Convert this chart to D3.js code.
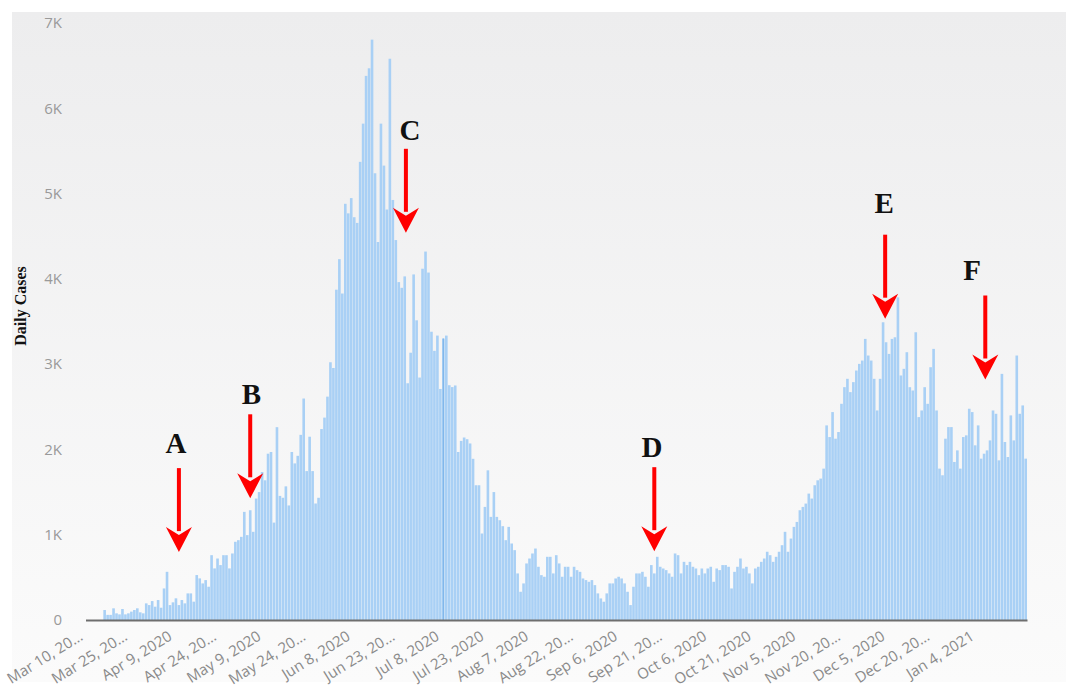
<!DOCTYPE html>
<html>
<head>
<meta charset="utf-8">
<script src="https://cdn.jsdelivr.net/npm/d3@7"></script>
<style>
  body { margin: 0; background: #fff; }
  svg { display: block; }
</style>
</head>
<body>
<div id="chart"></div>
<script>
// daily cases, one array per month (Mar 10, 2020 .. Jan 20, 2021)
var mar2020 = [0,0,0,0,0,0,117,60,60,137,78,66,129,66,78,98,117,137,90,78,195,175];
var apr2020 = [222,156,234,144,370,565,175,207,254,175,234,195,312,312,215,527,488,429,468,390,760,605,721,644,760,760,605,780,917,936];
var may2020 = [975,1268,995,1287,1034,1424,1500,1735,1638,1950,1970,1142,2261,1455,1433,1567,1343,1970,1836,1925,2171,2597,1746,2149,1746,1366,1433,2239,2373,2619,3022];
var jun2020 = [2955,3873,4231,3828,4880,4768,4947,4723,4656,5372,5820,6380,6469,6805,5238,4432,5820,5328,4813,6581,4925,4455,3962,3895,4029,2776,3134,4052,3514,2843];
var jul2020 = [4119,4320,4074,3380,3156,3335,2709,3300,3335,2753,2731,2750,1970,2100,2140,2120,2070,1890,1580,1580,1014,1326,1755,1209,1500,1209,1170,1100,936,1092,897];
var aug2020 = [819,546,331,429,663,721,780,838,624,526,507,741,741,546,760,663,507,624,624,507,624,585,565,487,468,448,468,409,312,253,214];
var sep2020 = [312,429,429,487,507,487,429,331,175,390,546,546,565,507,390,644,546,741,624,604,585,546,507,780,760,546,682,644,682,624];
var oct2020 = [604,526,604,546,604,624,448,604,585,644,644,624,370,565,624,721,604,624,546,429,604,624,682,721,800,760,682,741,800,877,1034];
var nov2020 = [800,955,1092,1150,1287,1326,1365,1482,1424,1580,1638,1658,1775,2282,2145,2438,2126,2204,2535,2730,2828,2672,2789,2925,3003,3042,3296,3101,3042,2828];
var dec2020 = [2457,2828,3491,3257,3120,3296,3315,3783,2867,2945,3140,2730,2691,3374,2379,2457,2730,2535,2964,3179,2457,1775,1697,2126,2262,2262,1853,1989,1775,2145,2165];
var jan2021 = [2477,2438,2048,2282,1892,1950,1989,2106,2457,2418,1872,2886,2087,1911,2399,2106,3101,2418,2516,1892];

var dailyCases = [].concat(mar2020, apr2020, may2020, jun2020, jul2020, aug2020,
                           sep2020, oct2020, nov2020, dec2020, jan2021);

var tickLabels = ["Mar 10, 20\u2026", "Mar 25, 20\u2026", "Apr 9, 2020", "Apr 24, 20\u2026", "May 9, 2020",
                  "May 24, 20\u2026", "Jun 8, 2020", "Jun 23, 20\u2026", "Jul 8, 2020", "Jul 23, 2020",
                  "Aug 7, 2020", "Aug 22, 20\u2026", "Sep 6, 2020", "Sep 21, 20\u2026", "Oct 6, 2020",
                  "Oct 21, 2020", "Nov 5, 2020", "Nov 20, 20\u2026", "Dec 5, 2020", "Dec 20, 20\u2026", "Jan 4, 2021"];
var yTicks = [0, 1000, 2000, 3000, 4000, 5000, 6000, 7000];
var yTickLabels = ["0", "1K", "2K", "3K", "4K", "5K", "6K", "7K"];

// annotations: day index (from Mar 10) and value where the arrow tip / letter sit
var annotLabels = ["A", "B", "C", "D", "E", "F"];
var annotTipDay = [31, 55, 107.4, 191, 268.7, 302.4];
var annotTipValue = [796, 1427, 4540, 807, 3533, 2820];
var annotLabelDay = [30, 55.4, 108.8, 190.2, 268.4, 298];
var annotLabelValue = [1958, 2532, 5627, 1911, 4771, 3986];

var startDate = new Date(2020, 2, 10);
var highlightIndex = d3.timeDay.count(startDate, new Date(2020, 6, 8)); // Jul 8

var width = 1074, height = 689;
var svg = d3.select("#chart").append("svg")
    .attr("width", width)
    .attr("height", height);

var defs = svg.append("defs");
var grad = defs.append("linearGradient")
    .attr("id", "panelGrad")
    .attr("x1", 0).attr("y1", 0).attr("x2", 0).attr("y2", 1);
grad.append("stop").attr("offset", "0%").attr("stop-color", "#ededee");
grad.append("stop").attr("offset", "100%").attr("stop-color", "#fbfbfb");

svg.append("rect")
    .attr("x", 12).attr("y", 12)
    .attr("width", 1054).attr("height", 670)
    .attr("fill", "url(#panelGrad)");

var x = d3.scaleBand()
    .domain(d3.range(dailyCases.length))
    .range([85.5, 1027])
    .paddingInner(0.12)
    .paddingOuter(0);
var half = x.bandwidth() / 2;
var xDay = d3.scaleLinear()
    .domain([0, dailyCases.length - 1])
    .range([x(0) + half, x(dailyCases.length - 1) + half]);
var y = d3.scaleLinear()
    .domain([0, 7000])
    .range([620, 23]);

// bars
svg.append("g")
  .selectAll("rect")
  .data(dailyCases)
  .enter().append("rect")
    .attr("x", function(d, i) { return x(i); })
    .attr("y", function(d) { return y(d); })
    .attr("width", x.bandwidth())
    .attr("height", function(d) { return y(0) - y(d); })
    .attr("fill", "#a9d0f5");

// hover marker on Jul 8
svg.append("line")
    .attr("x1", xDay(highlightIndex)).attr("x2", xDay(highlightIndex))
    .attr("y1", y(0)).attr("y2", y(dailyCases[highlightIndex]))
    .attr("stroke", "#7fb5ea")
    .attr("stroke-width", 1.2);

// x axis
var xAxis = svg.append("g")
    .attr("transform", "translate(0," + y(0) + ")")
    .call(d3.axisBottom(x)
        .tickValues(d3.range(0, tickLabels.length * 15, 15))
        .tickFormat(function(d, i) { return tickLabels[i]; })
        .tickSize(0)
        .tickSizeOuter(0));
xAxis.select(".domain")
    .attr("stroke", "#6e6e6e")
    .attr("stroke-width", 2.2);
xAxis.selectAll("text")
    .attr("y", null)
    .attr("dy", null)
    .attr("text-anchor", "end")
    .attr("transform", "translate(-3,19) rotate(-32)")
    .style("font-family", "'Open Sans', sans-serif")
    .style("font-size", "15px")
    .style("fill", "#8a8a8a");

// y axis
var yAxis = svg.append("g")
    .attr("transform", "translate(62,0)")
    .call(d3.axisLeft(y)
        .tickValues(yTicks)
        .tickFormat(function(d, i) { return yTickLabels[i]; })
        .tickSize(0)
        .tickPadding(0));
yAxis.select(".domain").remove();
yAxis.selectAll("text")
    .style("font-family", "'Open Sans', sans-serif")
    .style("font-size", "15px")
    .style("fill", "#9a9a9a");

svg.append("text")
    .text("Daily Cases")
    .attr("transform", "translate(26," + 306 + ") rotate(-90)")
    .style("text-anchor", "middle")
    .style("font-family", "'Liberation Serif', serif")
    .style("font-weight", "bold")
    .style("font-size", "16px")
    .style("fill", "#111");

// annotation arrows
var arrowLen = 84, headH = 25, headW = 26;
var annot = svg.append("g")
  .selectAll("g")
  .data(annotLabels)
  .enter().append("g");

annot.append("line")
    .attr("x1", function(d, i) { return xDay(annotTipDay[i]); })
    .attr("x2", function(d, i) { return xDay(annotTipDay[i]); })
    .attr("y1", function(d, i) { return y(annotTipValue[i]) - arrowLen; })
    .attr("y2", function(d, i) { return y(annotTipValue[i]) - headH + 4; })
    .attr("stroke", "#ff0000")
    .attr("stroke-width", 4);

annot.append("path")
    .attr("d", function(d, i) {
        var tx = xDay(annotTipDay[i]), ty = y(annotTipValue[i]);
        return "M" + tx + "," + ty +
               "L" + (tx - headW / 2) + "," + (ty - headH) +
               "L" + tx + "," + (ty - headH + 8) +
               "L" + (tx + headW / 2) + "," + (ty - headH) + "Z";
    })
    .attr("fill", "#ff0000");

annot.append("text")
    .text(function(d) { return d; })
    .attr("x", function(d, i) { return xDay(annotLabelDay[i]); })
    .attr("y", function(d, i) { return y(annotLabelValue[i]); })
    .style("text-anchor", "middle")
    .style("font-family", "'Liberation Serif', serif")
    .style("font-weight", "bold")
    .style("font-size", "29px")
    .style("fill", "#111");
</script>
</body>
</html>
